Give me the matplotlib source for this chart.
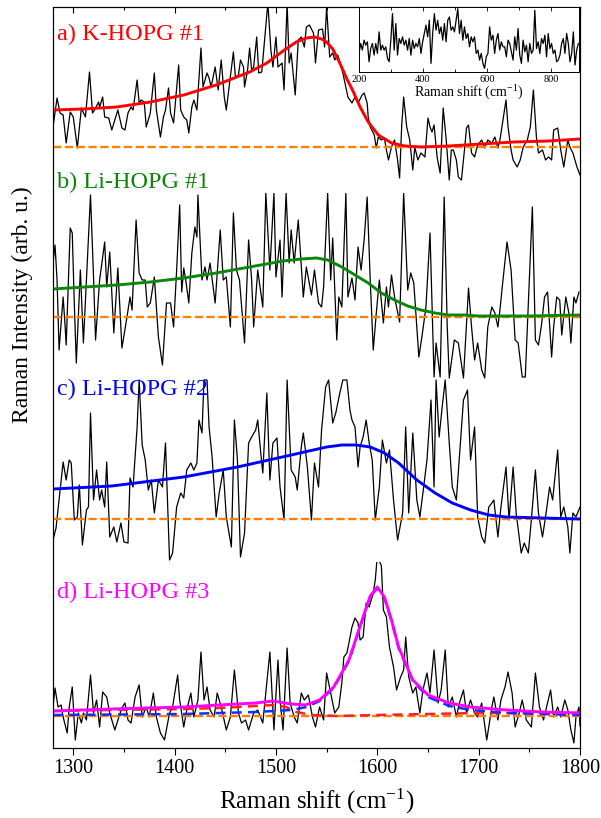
import numpy as np
import matplotlib
matplotlib.use('Agg')
import matplotlib.pyplot as plt
from matplotlib.patches import Rectangle
from matplotlib.ticker import MultipleLocator

plt.rcParams['font.family'] = 'Liberation Serif'
plt.rcParams['mathtext.fontset'] = 'custom'
plt.rcParams['mathtext.rm'] = 'Liberation Serif'
plt.rcParams['mathtext.it'] = 'Liberation Serif:italic'

# a) K-HOPG #1  (shift in cm-1, intensity above its own baseline, arb. u.)
a_x = [1280,1284,1287,1290,1293,1297,1300,1304,1308,1312,1316,1319,1321,1325,1326,1329,1331,1335,1338,1341,
       1344,1348,1351,1354,1357,1359,1363,1365,1367,1370,1372,1376,1380,1382,1386,1389,1391,1394,1396,1399,
       1404,1406,1409,1412,1414,1417,1419,1422,1426,1428,1432,1434,1436,1440,1443,1446,1449,1451,1455,1458,
       1460,1463,1465,1468,1469,1472,1474,1476,1478,1481,1483,1486,1489,1492,1495,1497,1500,1502,1506,1508,
       1511,1513,1515,1519,1522,1525,1528,1530,1533,1537,1539,1542,1546,1548,1550,1553,1556,1558,1561,1566,
       1571,1575,1578,1581,1585,1587,1590,1591,1593,1596,1597,1599,1601,1604,1607,1609,1611,1614,1617,1620,
       1622,1624,1626,1629,1632,1635,1637,1640,1643,1647,1650,1652,1654,1656,1659,1662,1665,1668,1671,1673,
       1675,1678,1680,1683,1686,1688,1690,1693,1696,1699,1703,1706,1709,1713,1716,1719,1721,1724,1727,1729,
       1732,1734,1738,1741,1744,1748,1751,1754,1757,1759,1763,1766,1769,1772,1774,1778,1781,1784,1788,1790,
       1793,1797,1800]
a_y = [20,49,34,32,4,35,30,-1,39,30,75,34,37,45,40,50,30,29,17,27,
       37,19,17,34,40,37,67,44,47,45,20,34,74,37,10,30,37,59,34,24,
       82,37,30,27,14,40,47,37,99,60,74,69,60,80,57,87,50,37,70,95,
       70,72,87,80,60,77,99,77,80,110,74,75,110,144,97,80,110,80,84,57,
       144,84,94,52,107,110,100,120,122,114,84,117,118,100,140,90,94,87,92,74,
       50,44,50,44,52,54,44,30,20,14,12,-1,10,7,9,-3,-13,0,7,-13,
       -31,20,50,20,7,-23,0,-13,-6,-10,29,20,15,22,-10,-26,39,7,-33,-3,
       -3,-13,-30,-33,-3,19,22,-6,-10,2,7,-1,7,4,10,-1,7,27,47,20,
       -3,-13,-20,-13,0,7,20,57,10,-6,-3,-13,-10,-13,17,19,-3,-20,7,0,
       -6,-20,-28]
a_fit_x = [1280,1310,1343,1376,1409,1441,1474,1491,1507,1520,1530,1538,1545,1550,1556,1563,1570,1576,1583,1591,
           1601,1614,1627,1643,1670,1703,1735,1769,1800]
a_fit_y = [37,38,40,45,52,62,75,84,96,105,109,110,108,105,98,84,68,56,40,25,
           12,4,1,0,1,3,5,6,8]

# b) Li-HOPG #1
b_x = [1280,1282,1284,1286,1290,1292,1293,1297,1299,1301,1303,1307,1310,1313,1317,1320,1322,1326,1331,1333,
       1336,1340,1344,1348,1353,1356,1358,1362,1365,1368,1371,1373,1376,1380,1384,1388,1392,1396,1399,1402,
       1405,1407,1409,1411,1414,1417,1420,1422,1423,1427,1430,1432,1435,1440,1445,1448,1451,1455,1458,1461,
       1464,1469,1473,1476,1478,1482,1487,1490,1494,1498,1500,1504,1506,1510,1513,1515,1518,1522,1527,1530,
       1535,1538,1542,1545,1547,1551,1554,1556,1560,1562,1565,1569,1571,1575,1578,1581,1584,1587,1590,1593,
       1596,1599,1602,1606,1609,1611,1614,1617,1622,1626,1630,1633,1636,1641,1644,1648,1652,1656,1658,1662,
       1666,1669,1671,1676,1680,1685,1690,1693,1696,1699,1703,1706,1709,1713,1716,1719,1721,1724,1728,1732,
       1736,1739,1743,1746,1749,1753,1756,1759,1762,1765,1768,1772,1774,1777,1780,1782,1786,1789,1791,1794,
       1796,1799]
b_y = [54,72,37,-33,20,-10,-28,89,84,14,-46,47,-26,37,122,40,-23,37,75,30,
       65,-16,49,-31,0,20,7,97,44,37,37,10,14,40,-20,-48,14,14,-10,47,
       112,25,49,37,14,64,90,80,122,37,50,37,54,14,87,37,40,-10,104,47,
       37,-26,77,37,-10,47,10,124,47,124,40,77,20,124,54,87,54,97,20,50,
       22,47,14,10,30,124,37,79,-23,20,10,124,20,39,17,70,47,77,120,37,
       -33,4,37,-6,30,10,42,20,-5,124,27,44,34,-40,-20,10,84,-60,-26,-60,
       120,-10,-61,-23,-26,-61,29,-10,-43,-26,-53,-61,-10,10,4,-10,7,37,75,47,
       -23,-26,-60,-60,14,110,-23,-28,-8,20,25,-40,-10,20,17,-18,20,4,-26,20,
       14,25]
b_fit_x = [1280,1343,1376,1409,1441,1474,1507,1525,1540,1551,1565,1578,1591,1604,1617,1630,1643,1657,1670,1686,
           1700,1750,1800]
b_fit_y = [28,32,35,39,44,50,56,58,59,57,50,42,34,24,17,11,7,4,2,2,
           1,1,2]

# c) Li-HOPG #2
c_x = [1280,1283,1287,1290,1293,1296,1298,1301,1304,1306,1309,1313,1315,1317,1320,1323,1326,1328,1331,1333,
       1336,1340,1343,1347,1350,1354,1356,1359,1363,1365,1368,1371,1374,1377,1380,1384,1388,1391,1395,1398,
       1402,1406,1409,1412,1416,1419,1422,1424,1427,1429,1432,1434,1437,1441,1444,1448,1451,1456,1459,1462,
       1465,1469,1473,1476,1480,1482,1485,1487,1491,1494,1497,1501,1504,1508,1511,1515,1519,1521,1525,1527,
       1531,1535,1538,1542,1545,1549,1552,1556,1559,1563,1566,1570,1573,1575,1578,1581,1583,1586,1589,1592,
       1595,1598,1602,1605,1609,1612,1616,1620,1625,1628,1631,1635,1639,1642,1645,1649,1653,1656,1658,1661,
       1664,1667,1671,1674,1678,1681,1685,1689,1692,1696,1699,1703,1706,1710,1713,1715,1719,1722,1727,1730,
       1734,1737,1742,1745,1749,1752,1756,1759,1763,1766,1770,1773,1778,1781,1784,1788,1790,1793,1796,1800]
c_y = [-21,-9,29,57,39,59,56,-1,2,34,-26,9,12,106,19,49,19,29,12,57,
       -18,-8,-23,-4,-23,-24,41,32,92,139,74,59,29,39,6,39,32,76,-41,-34,
       12,26,21,49,56,49,56,99,86,139,139,92,62,2,26,49,2,-28,99,59,
       -38,-14,76,82,89,99,66,46,126,39,76,81,32,-1,139,49,42,29,72,86,
       52,-1,56,32,89,132,139,96,106,126,139,139,109,99,92,52,72,82,99,76,
       59,-1,32,79,56,69,19,-21,6,92,6,86,19,2,26,59,119,32,139,82,
       112,139,76,32,19,62,119,129,59,92,2,-18,-24,12,16,19,-18,12,52,-1,
       52,6,-34,-24,-34,-1,49,6,-18,2,32,19,69,2,12,-8,-34,6,2,12]
c_fit_x = [1280,1338,1409,1462,1515,1550,1565,1579,1593,1607,1621,1639,1657,1674,1692,1710,1727,1763,1800]
c_fit_y = [30,33,42,52,64,72,74,74,72,66,56,39,26,16,9,4,2,1,0]

# d) Li-HOPG #3
d_x = [1280,1282,1285,1288,1290,1294,1296,1299,1302,1305,1308,1310,1313,1317,1320,1323,1326,1329,1333,1336,
       1341,1345,1348,1351,1354,1357,1361,1365,1368,1372,1375,1379,1382,1386,1390,1395,1398,1403,1405,1409,
       1412,1416,1419,1423,1426,1429,1432,1435,1439,1442,1446,1451,1455,1459,1463,1466,1470,1473,1478,1482,
       1487,1490,1494,1498,1502,1504,1507,1511,1514,1518,1521,1525,1528,1532,1536,1539,1543,1547,1550,1554,
       1558,1562,1565,1567,1570,1572,1575,1578,1581,1583,1586,1589,1592,1596,1598,1600,1604,1606,1609,1612,
       1616,1619,1623,1626,1628,1631,1635,1638,1642,1645,1649,1652,1656,1660,1663,1667,1670,1674,1678,1681,
       1685,1688,1692,1696,1699,1703,1708,1713,1715,1719,1722,1726,1729,1733,1736,1740,1743,1747,1752,1756,
       1760,1764,1767,1771,1774,1778,1781,1785,1788,1791,1794,1796,1799,1800]
d_y = [9,28,9,11,-1,-17,9,29,-24,3,-7,3,-4,41,3,16,-11,24,19,3,
       -14,-1,8,13,-4,-7,19,31,-1,9,-1,23,-1,-17,-24,3,9,41,16,-11,
       6,23,-1,16,64,16,29,6,-1,23,9,-14,-1,46,3,-7,-4,-14,3,6,
       -7,23,64,-14,56,16,-14,68,13,-1,-7,23,16,21,-1,-11,9,-4,43,23,
       3,9,33,59,63,73,89,98,93,76,79,113,109,123,136,160,150,106,99,69,
       49,26,39,46,79,39,23,29,3,26,43,23,66,13,26,66,9,19,-1,13,
       26,3,16,3,-1,13,-24,9,19,-4,16,29,44,23,-11,3,16,-4,-11,43,
       9,-4,9,26,-1,9,-1,16,6,-14,-27,-1,9,-10]
d_fit_x = [1280,1338,1409,1444,1480,1497,1515,1529,1543,1557,1572,1586,1593,1600,1607,1614,1621,1635,1650,1671,
           1692,1727,1763,1800]
d_fit_y = [5,7,9,11,13,15,12,11,16,29,56,99,120,129,119,96,69,36,21,13,
           9,6,4,3]
d_bg_x = [1280,1338,1409,1444,1480,1497,1510,1520,1535,1560,1600,1650,1700,1800]
d_bg_y = [5,6,7,8,10,11,9,4,1,0,1,2,3,3]
d_pk_x = [1280,1409,1480,1515,1530,1543,1557,1572,1586,1593,1600,1607,1614,1621,1635,1650,1671,1692,1727,1763,1800]
d_pk_y = [1,2,4,6,9,15,28,55,98,119,128,118,95,68,35,19,10,6,3,2,1]

# inset: low-shift range of a)
inset_y = [56,86,66,96,81,91,31,71,86,51,86,56,121,66,81,66,76,41,31,96,
           176,66,146,51,101,86,106,81,96,66,101,51,96,71,86,76,101,56,91,116,
           141,106,156,26,116,176,126,156,116,136,96,146,91,156,166,126,136,121,156,191,
           116,156,96,136,101,116,76,106,91,106,56,66,36,56,26,11,46,56,136,96,
           111,56,96,116,66,91,76,76,46,96,86,61,36,106,66,131,51,26,96,61,
           81,31,86,56,66,186,71,91,56,101,86,111,46,116,71,86,56,66,31,36,
           51,86,101,56,116,86,31,56,121,21,66,86]

labels = ['a) K-HOPG #1', 'b) Li-HOPG #1', 'c) Li-HOPG #2', 'd) Li-HOPG #3']
colors = ['#ff0000', '#0a860a', '#0000ff', '#ff00ff']
baselines = [601, 431, 229, 32]
bands = [(565, 741), (369, 555), (185, 370), (0, 186)]
label_y = [708, 560, 353, 150]
orange = '#ff8000'

fig = plt.figure(figsize=(6.01, 8.18), dpi=100)
ax = fig.add_axes([53/601, 70/818, 527/601, 741/818])

spectra = [(a_x, a_y, a_fit_x, a_fit_y), (b_x, b_y, b_fit_x, b_fit_y),
           (c_x, c_y, c_fit_x, c_fit_y), (d_x, d_y, d_fit_x, d_fit_y)]
for i, (sx, sy, fx, fy) in enumerate(spectra):
    base = baselines[i]
    lo, hi = bands[i]
    line, = ax.plot(sx, np.array(sy) + base, color='k', lw=0.9)
    clip = Rectangle((1280, lo), 520, hi - lo, transform=ax.transData)
    line.set_clip_path(clip)
    ax.plot([1280, 1800], [base, base], color=orange, lw=1.7, ls=(0, (3.5, 1.5)))
    if i == 3:
        ax.plot(d_bg_x, np.array(d_bg_y) + base, color='#ff2020', lw=1.8, ls=(0, (4, 2.5)))
        ax.plot(d_pk_x, np.array(d_pk_y) + base, color='#1030ff', lw=1.8, ls=(0, (4, 2.5)))
    ax.plot(fx, np.array(fy) + base, color=colors[i], lw=2.1)
    ax.text(1284, label_y[i], labels[i], color=colors[i], fontsize=17.5, va='baseline', ha='left')

ax.set_xlim(1280, 1800)
ax.set_ylim(0, 741)
ax.set_yticks([])
ax.xaxis.set_major_locator(MultipleLocator(100))
ax.xaxis.set_minor_locator(MultipleLocator(50))
ax.tick_params(axis='x', which='major', direction='out', length=5, width=0.8, labelsize=14.5, pad=3)
ax.tick_params(axis='x', which='minor', direction='out', length=3, width=0.8)
ax.set_xlabel('Raman shift (cm$^{\\mathrm{-1}}$)', fontsize=18, labelpad=6)
for s in ax.spines.values():
    s.set_linewidth(0.8)

top = ax.twiny()
top.set_xlim(1280, 1800)
top.xaxis.set_major_locator(MultipleLocator(100))
top.xaxis.set_minor_locator(MultipleLocator(50))
top.tick_params(axis='x', which='both', direction='in', labeltop=False, width=0.8)
top.tick_params(axis='x', which='major', length=4)
top.tick_params(axis='x', which='minor', length=2)

fig.text(22/601, 1 - 305/818, 'Raman Intensity (arb. u.)', rotation=90, fontsize=17,
         ha='center', va='center')

# inset
axin = fig.add_axes([359/601, 746/818, 220/601, 65/818])
inset_x = np.linspace(200, 886, len(inset_y))
axin.plot(inset_x, inset_y, color='k', lw=0.9)
axin.set_xlim(200, 888)
axin.set_ylim(0, 196)
axin.set_yticks([])
axin.xaxis.set_major_locator(MultipleLocator(200))
axin.xaxis.set_minor_locator(MultipleLocator(100))
axin.tick_params(axis='x', which='both', direction='in', top=True, labelsize=7.5, pad=2, width=0.6)
axin.tick_params(axis='x', which='major', length=3)
axin.tick_params(axis='x', which='minor', length=2)
axin.set_xlabel('Raman shift (cm$^{\\mathrm{-1}}$)', fontsize=10, labelpad=0)
for s in axin.spines.values():
    s.set_linewidth(0.7)

plt.savefig('out.png', dpi=100)
plt.close()
